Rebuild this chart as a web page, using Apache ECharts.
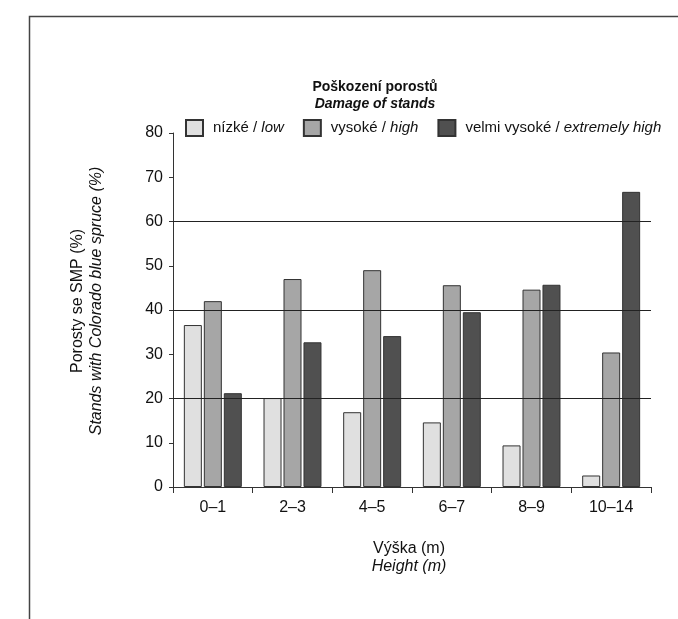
<!DOCTYPE html>
<html>
<head>
<meta charset="utf-8">
<script src="https://cdn.jsdelivr.net/npm/echarts@6/dist/echarts.min.js"></script>
<style>html,body{margin:0;padding:0;background:#fff}#c{width:678px;height:619px}</style>
</head>
<body>
<div id="c"></div>
<script>
const categories = ['0–1', '2–3', '4–5', '6–7', '8–9', '10–14'];
const lowValues = [36.6, 20.1, 16.9, 14.6, 9.4, 2.6];
const highValues = [42.0, 47.0, 49.0, 45.6, 44.6, 30.4];
const extremeValues = [21.2, 32.7, 34.1, 39.5, 45.7, 66.7];
const seriesNamesCz = ['nízké', 'vysoké', 'velmi vysoké'];
const seriesNamesEn = ['low', 'high', 'extremely high'];
const gridValues = [20, 40, 60];

const FONT = '"Liberation Sans", Arial, sans-serif';
const chart = echarts.init(document.getElementById('c'), null, {renderer: 'canvas'});
const colors = ['#e0e0e0', '#a6a6a6', '#505050'];
const dataSets = [lowValues, highValues, extremeValues];

const barSeries = dataSets.map((d, i) => ({
  name: seriesNamesCz[i] + ' / ' + seriesNamesEn[i],
  type: 'bar',
  data: d,
  barWidth: 18,
  barGap: '11%',
  z: 3,
  itemStyle: {color: colors[i], borderColor: '#333', borderWidth: 1},
  emphasis: {disabled: true}
}));

const option = {
  animation: false,
  textStyle: {fontFamily: FONT},
  grid: {left: 173, right: 27, top: 133, bottom: 132, containLabel: false},
  legend: {
    left: 180, top: 114,
    itemWidth: 17, itemHeight: 16, itemGap: 19,
    icon: 'rect',
    formatter: function (name) {
      const parts = name.split(' / ');
      return '{a|' + parts[0] + ' / }{b|' + parts[1] + '}';
    },
    textStyle: {
      fontFamily: FONT, fontSize: 15, color: '#111',
      rich: {
        a: {fontFamily: FONT, fontSize: 15, color: '#111', padding: [0, 0, 0, 5]},
        b: {fontFamily: FONT, fontSize: 15, color: '#111', fontStyle: 'italic'}
      }
    }
  },
  xAxis: {
    type: 'category',
    data: categories,
    boundaryGap: true,
    axisLine: {lineStyle: {color: '#333', width: 1}},
    axisTick: {show: true, interval: 0, length: 6, lineStyle: {color: '#333'}},
    axisLabel: {fontFamily: FONT, fontSize: 16, color: '#111', margin: 13, interval: 0}
  },
  yAxis: {
    type: 'value', min: 0, max: 80, interval: 10,
    axisLine: {show: true, lineStyle: {color: '#333', width: 1}},
    axisTick: {show: true, length: 4, lineStyle: {color: '#333'}},
    axisLabel: {fontFamily: FONT, fontSize: 16, color: '#111', margin: 10},
    splitLine: {show: false}
  },
  series: [
    {
      type: 'line', data: [], z: 1, silent: true,
      markLine: {
        silent: true, symbol: ['none', 'none'], label: {show: false},
        lineStyle: {color: '#222', width: 1, type: 'solid'},
        data: gridValues.map(v => ({yAxis: v}))
      }
    },
    ...barSeries
  ],
  graphic: [
    {type: 'polyline', shape: {points: [[29.5, 619], [29.5, 16.5], [678, 16.5]]},
     style: {stroke: '#444', lineWidth: 1.5, fill: null}},
    {type: 'text', x: 375, y: 87, style: {text: 'Poškození porostů', font: 'bold 14px ' + FONT, fill: '#111', textAlign: 'center', textVerticalAlign: 'middle'}},
    {type: 'text', x: 375, y: 104, style: {text: 'Damage of stands', font: 'italic bold 14px ' + FONT, fill: '#111', textAlign: 'center', textVerticalAlign: 'middle'}},
    {type: 'text', x: 409, y: 549, style: {text: 'Výška (m)', font: '16px ' + FONT, fill: '#111', textAlign: 'center', textVerticalAlign: 'middle'}},
    {type: 'text', x: 409, y: 567, style: {text: 'Height (m)', font: 'italic 16px ' + FONT, fill: '#111', textAlign: 'center', textVerticalAlign: 'middle'}},
    {type: 'text', x: 78, y: 301, rotation: Math.PI / 2, style: {text: 'Porosty se SMP (%)', font: '16px ' + FONT, fill: '#111', textAlign: 'center', textVerticalAlign: 'middle'}},
    {type: 'text', x: 97, y: 301, rotation: Math.PI / 2, style: {text: 'Stands with Colorado blue spruce (%)', font: 'italic 16px ' + FONT, fill: '#111', textAlign: 'center', textVerticalAlign: 'middle'}}
  ]
};
chart.setOption(option);
</script>
</body>
</html>
